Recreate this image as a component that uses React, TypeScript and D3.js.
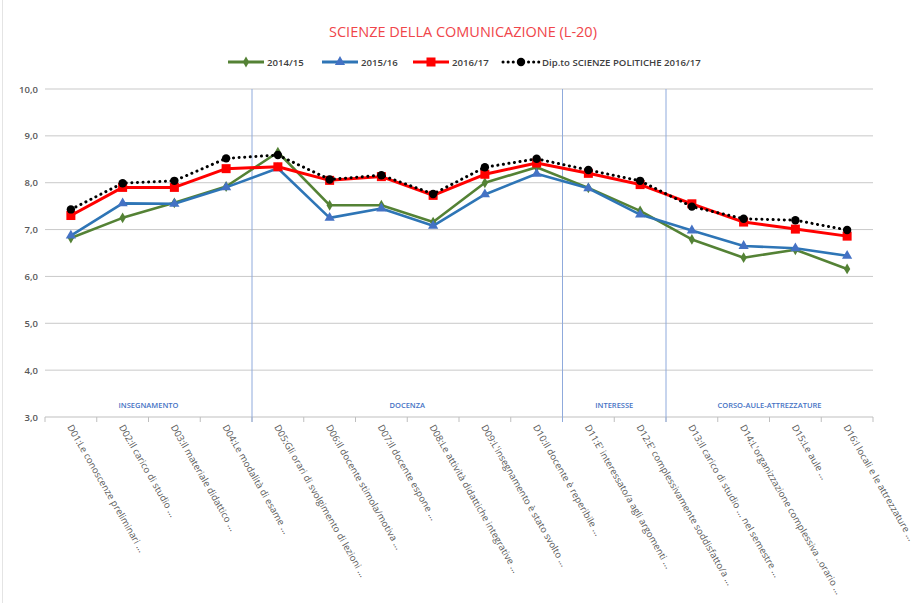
import React from "react";
import * as d3 from "d3";

// question labels along the x axis
const questions: string[] = [
  "D01:Le conoscenze preliminari ...",
  "D02:Il carico di studio ...",
  "D03:Il materiale didattico ...",
  "D04:Le modalità di esame ...",
  "D05:Gli orari di svolgimento di lezioni ...",
  "D06:Il docente stimola/motiva ...",
  "D07:Il docente espone ...",
  "D08:Le attività didattiche integrative ...",
  "D09:L'insegnamento è stato svolto ...",
  "D10:Il docente è reperibile ...",
  "D11:E' interessato/a agli argomenti ...",
  "D12:E' complessivamente soddisfatto/a ...",
  "D13:Il carico di studio ... nel semestre ...",
  "D14:L'organizzazione complessiva ..orario ...",
  "D15:Le aule ...",
  "D16:I locali e le attrezzature ...",
];

const y2014: number[] = [6.82, 7.25, 7.57, 7.92, 8.65, 7.52, 7.52, 7.16, 8.0, 8.33, 7.89, 7.4, 6.79, 6.4, 6.57, 6.16];
const y2015: number[] = [6.87, 7.56, 7.55, 7.9, 8.31, 7.25, 7.45, 7.08, 7.75, 8.19, 7.88, 7.32, 6.98, 6.65, 6.6, 6.44];
const y2016: number[] = [7.3, 7.9, 7.9, 8.3, 8.34, 8.05, 8.13, 7.73, 8.18, 8.42, 8.2, 7.96, 7.55, 7.16, 7.01, 6.86];
const dipto: number[] = [7.43, 7.99, 8.04, 8.52, 8.59, 8.07, 8.16, 7.76, 8.33, 8.51, 8.27, 8.04, 7.49, 7.23, 7.2, 6.99];

// groups of questions: [label, first index, last index]
const sections: [string, number, number][] = [
  ["INSEGNAMENTO", 0, 3],
  ["DOCENZA", 4, 9],
  ["INTERESSE", 10, 11],
  ["CORSO-AULE-ATTREZZATURE", 12, 15],
];

const yTicks: number[] = [3, 4, 5, 6, 7, 8, 9, 10];

interface Series {
  name: string;
  values: number[];
  color: string;
  marker: string;
  dotted?: boolean;
}

const series: Series[] = [
  { name: "2014/15", values: y2014, color: "#548235", marker: "diamond" },
  { name: "2015/16", values: y2015, color: "#2e75b6", marker: "triangle" },
  { name: "2016/17", values: y2016, color: "#ff0000", marker: "square" },
  { name: "Dip.to  SCIENZE POLITICHE 2016/17", values: dipto, color: "#000000", marker: "circle", dotted: true },
];

const W = 918;
const H = 603;
const margin = { top: 89, right: 45, bottom: 186, left: 45 };

const Marker = ({ kind, x, y, color }: { kind: string; x: number; y: number; color: string }) => {
  if (kind === "square") return <rect x={x - 4.5} y={y - 4.5} width={9} height={9} fill={color} />;
  if (kind === "circle") return <circle cx={x} cy={y} r={4.2} fill={color} />;
  if (kind === "triangle") {
    const p = d3.symbol(d3.symbolTriangle, 45)();
    return <path d={p || ""} transform={`translate(${x},${y})`} fill="#4472c4" />;
  }
  const p = d3.symbol(d3.symbolDiamond, 34)();
  return <path d={p || ""} transform={`translate(${x},${y})`} fill={color} />;
};

export default function App() {
  const x = d3
    .scaleBand<number>()
    .domain(d3.range(questions.length))
    .range([margin.left, W - margin.right]);
  const y = d3.scaleLinear().domain([3, 10]).range([H - margin.bottom, margin.top]);
  const cx = (i: number) => (x(i) as number) + x.bandwidth() / 2;
  const line = d3
    .line<number>()
    .x((_, i) => cx(i))
    .y((d) => y(d));

  const legendItems = [
    { s: series[0], x0: 228 },
    { s: series[1], x0: 322 },
    { s: series[2], x0: 413 },
    { s: series[3], x0: 503 },
  ];

  return (
    <svg
      width={W}
      height={H}
      style={{ position: "absolute", left: 0, top: 0, fontFamily: "'Open Sans', sans-serif", background: "#fff" }}
    >
      <line x1={2.5} x2={2.5} y1={0} y2={H} stroke="#e4e4e4" />
      <text x={463} y={37} textAnchor="middle" fill="#f0454a" fontSize={14.5}>
        SCIENZE DELLA COMUNICAZIONE (L-20)
      </text>

      {legendItems.map(({ s, x0 }) => (
        <g key={s.name}>
          <line
            x1={x0}
            x2={x0 + 36}
            y1={62}
            y2={62}
            stroke={s.color}
            strokeWidth={3}
            strokeDasharray={s.dotted ? "0.1 5" : undefined}
            strokeLinecap={s.dotted ? "round" : "butt"}
          />
          <Marker kind={s.marker} x={x0 + 18} y={62} color={s.color} />
          <text x={x0 + 39} y={65.5} fontSize={9.6} fill="#404040" fontWeight={600}>
            {s.name}
          </text>
        </g>
      ))}

      {yTicks.map((t) => (
        <g key={t}>
          <line x1={margin.left} x2={W - margin.right} y1={y(t)} y2={y(t)} stroke={t === 3 ? "#bfbfbf" : "#c9c9c9"} />
          <text x={38} y={y(t) + 3.5} textAnchor="end" fontSize={9.5} fill="#595959" fontWeight={600}>
            {d3.format(".1f")(t).replace(".", ",")}
          </text>
        </g>
      ))}

      {d3.range(questions.length + 1).map((i) => {
        const xx = i < questions.length ? (x(i) as number) : W - margin.right;
        return <line key={i} x1={xx} x2={xx} y1={y(3)} y2={y(3) + 5} stroke="#bfbfbf" />;
      })}

      {sections.slice(1).map(([name, a]) => (
        <line key={name} x1={x(a)} x2={x(a)} y1={y(10)} y2={y(3) + 5} stroke="#8faadc" strokeWidth={1} />
      ))}

      {sections.map(([name, a, b]) => (
        <text
          key={name}
          x={((x(a) as number) + (x(b) as number) + x.bandwidth()) / 2}
          y={y(3) - 9}
          textAnchor="middle"
          fontSize={7.5}
          fill="#4472c4"
          fontWeight={600}
        >
          {name}
        </text>
      ))}

      {questions.map((q, i) => (
        <text
          key={q}
          transform={`translate(${cx(i) - 4},${y(3) + 10}) rotate(60)`}
          fontSize={9.5}
          fill="#595959"
        >
          {q}
        </text>
      ))}

      {series.map((s) => (
        <g key={s.name}>
          <path
            d={line(s.values) || ""}
            fill="none"
            stroke={s.color}
            strokeWidth={s.dotted ? 3 : s.marker === "square" ? 3 : 2.6}
            strokeDasharray={s.dotted ? "0.1 5.5" : undefined}
            strokeLinecap={s.dotted ? "round" : "butt"}
            strokeLinejoin="round"
          />
          {s.values.map((v, i) => (
            <Marker key={i} kind={s.marker} x={cx(i)} y={y(v)} color={s.color} />
          ))}
        </g>
      ))}
    </svg>
  );
}
